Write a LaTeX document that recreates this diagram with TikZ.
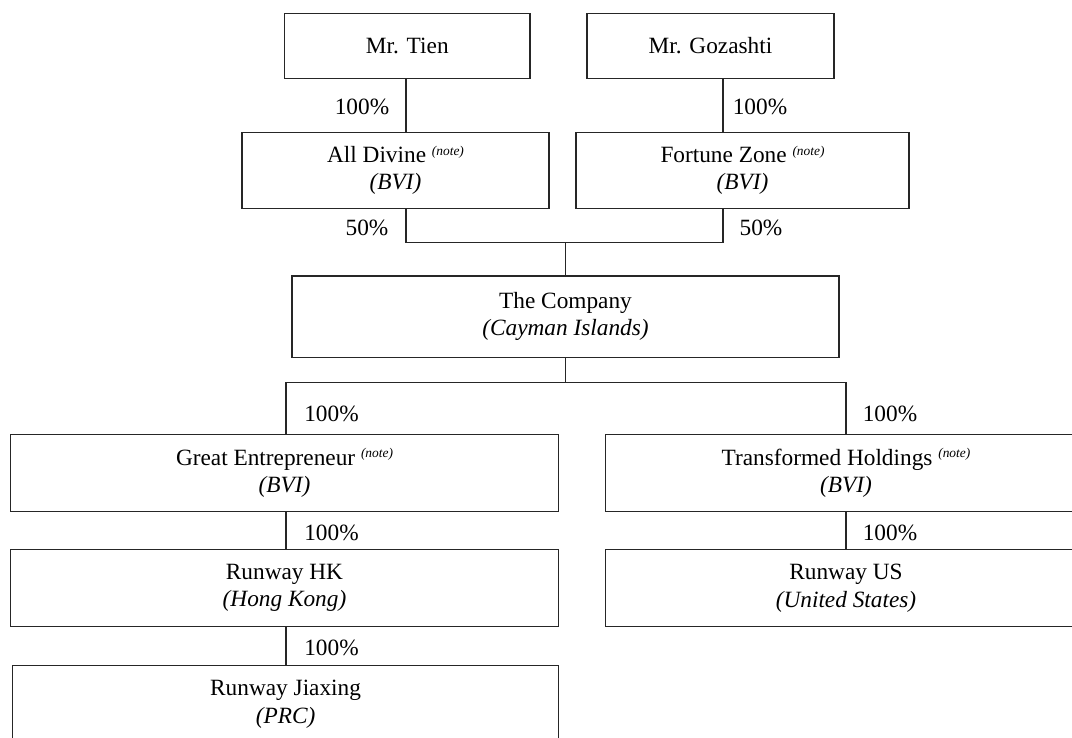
\documentclass[tikz,border=0pt]{standalone}
\usepackage{fontspec}
\setmainfont{Liberation Serif}
\usetikzlibrary{positioning,calc}
\tikzset{
  entity/.style={draw=black!85,line width=0.6pt,inner sep=0pt,outer sep=0pt,
    align=center,font=\fontsize{11.65}{13.8}\selectfont},
  share/.style={inner sep=0pt,font=\fontsize{11.65}{13.8}\selectfont},
  link/.style={draw=black!85,line width=0.6pt},
}
\newcommand{\notemark}{\ \raisebox{3.6pt}{\fontsize{6.7}{7}\selectfont\itshape (note)}}

\begin{document}
\begin{tikzpicture}[x=0.5pt,y=-0.5pt]
\useasboundingbox (0,0) rectangle (1072,738);
\clip (0,0) rectangle (1072,738);
% shareholders
\node[entity,minimum width=122.7pt,minimum height=32.7pt] (tien) at (407.3,46) {Mr. Tien};
\node[entity,minimum width=123.5pt,minimum height=32.7pt] (goz) at (710.5,46) {Mr. Gozashti};
\node[entity,minimum width=153.5pt,minimum height=38pt] (alldiv) at (395.5,170.3) {All Divine\notemark\\\textit{(BVI)}};
\node[entity,minimum width=166.5pt,minimum height=38pt] (fortune) at (742.5,170.3) {Fortune Zone\notemark\\\textit{(BVI)}};
% listco
\node[entity,minimum width=273.5pt,minimum height=40.65pt] (company) at (565.5,316.6) {The Company\\\textit{(Cayman Islands)}};
% subsidiaries
\node[entity,minimum width=274pt,minimum height=38.5pt] (great) at (284.5,473.2) {Great Entrepreneur\notemark\\\textit{(BVI)}};
\node[entity,minimum width=240.3pt,minimum height=38.5pt] (trans) at (846,473.2) {Transformed Holdings\notemark\\\textit{(BVI)}};
\node[entity,minimum width=274pt,minimum height=38.7pt] (rwhk) at (284.5,588) {Runway HK\\\textit{(Hong Kong)}};
\node[entity,minimum width=240.3pt,minimum height=38.7pt] (rwus) at (846,588) {Runway US\\\textit{(United States)}};
\node[entity,minimum width=273pt,minimum height=38.5pt] (rwjx) at (285.6,704.2) {Runway Jiaxing\\\textit{(PRC)}};

\coordinate (legA) at (406,0);
\coordinate (legB) at (723,0);
\coordinate (legC) at (286,0);
\coordinate (join) at (565.5,242.7);
\coordinate (split) at (565.5,382.7);

\draw[link] (tien.south -| legA) -- (alldiv.north -| legA);
\draw[link] (goz.south -| legB) -- (fortune.north -| legB);
\draw[link] (alldiv.south -| legA) |- (join) -| (fortune.south -| legB);
\draw[link] (join) -- (company.north);
\draw[link] (company.south) -- (split);
\draw[link] (great.north -| legC) |- (split) -| (trans.north);
\draw[link] (great.south -| legC) -- (rwhk.north -| legC);
\draw[link] (trans.south) -- (rwus.north);
\draw[link] (rwhk.south -| legC) -- (rwjx.north -| legC);

% percentages
\node[share] (pc1) at (362,107) {100\%};
\node[share] (pc2) at (760,107) {100\%};
\node[share] (pc3) at (367,228) {50\%};
\node[share] (pc4) at (761,228) {50\%};
\node[share] (pc5) at (331.5,414) {100\%};
\node[share] (pc6) at (890,414) {100\%};
\node[share] (pc7) at (331.5,532.7) {100\%};
\node[share] (pc8) at (890,532.7) {100\%};
\node[share] (pc9) at (331.5,648.3) {100\%};
\end{tikzpicture}
\end{document}
